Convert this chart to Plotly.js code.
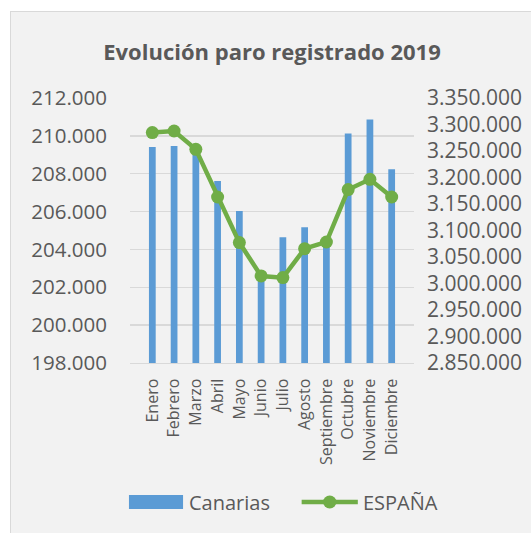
<!DOCTYPE html>
<html>
<head>
<meta charset="utf-8">
<script src="https://cdn.plot.ly/plotly-3.0.1.min.js"></script>
<style>
html,body{margin:0;padding:0;background:#ffffff;width:531px;height:533px;overflow:hidden;}
#chart{position:absolute;left:10px;top:11px;width:521px;height:522px;border-left:1px solid #d9d9d9;border-top:1px solid #d9d9d9;box-sizing:border-box;background:#f2f2f2;}
</style>
</head>
<body>
<div id="chart"></div>
<script>
const months = ["Enero","Febrero","Marzo","Abril","Mayo","Junio","Julio","Agosto","Septiembre","Octubre","Noviembre","Diciembre"];
const canarias = [209410, 209460, 209150, 207610, 206030, 202700, 204640, 205170, 204500, 210120, 210870, 208230];
const espana = [3284700, 3287700, 3253200, 3163200, 3077200, 3014200, 3011100, 3065800, 3078300, 3177200, 3196600, 3163200];
const seriesNames = ["Canarias", "ESPAÑA"];

const FONT = "'Open Sans', 'Liberation Sans', sans-serif";
const GREY = "#595959";
const BLUE = "#5b9bd5";
const GREEN = "#70ad47";

const traces = [
  {
    type: "bar", name: seriesNames[0], x: months, y: canarias,
    marker: {color: BLUE}, yaxis: "y", showlegend: false
  },
  {
    type: "scatter", mode: "lines+markers", name: seriesNames[1], x: months, y: espana,
    line: {color: GREEN, width: 4.5}, marker: {color: GREEN, size: 13},
    yaxis: "y2", showlegend: false
  }
];

// custom legend (paper coordinates relative to plot area)
const W = 273, H = 265;
const px = v => (v - 130) / W;
const py = v => (363 - v) / H;
const legendShapes = [
  {type: "rect", xref: "paper", yref: "paper", x0: px(129), x1: px(181), y0: py(509), y1: py(495),
   fillcolor: BLUE, line: {width: 0}},
  {type: "line", xref: "paper", yref: "paper", x0: px(295), x1: px(349), y0: py(502), y1: py(502),
   line: {color: GREEN, width: 4.5}},
  {type: "circle", xref: "paper", yref: "paper", x0: px(315.5), x1: px(328.5), y0: py(508.5), y1: py(495.5),
   fillcolor: GREEN, line: {width: 0}}
];
const legendTexts = [
  {text: seriesNames[0], xref: "paper", yref: "paper", x: px(185), y: py(502), xanchor: "left", yanchor: "middle",
   showarrow: false, font: {family: FONT, size: 20, color: GREY}},
  {text: seriesNames[1], xref: "paper", yref: "paper", x: px(352), y: py(502), xanchor: "left", yanchor: "middle",
   showarrow: false, font: {family: FONT, size: 20, color: GREY}}
];

const layout = {
  width: 520, height: 521,
  paper_bgcolor: "#f2f2f2", plot_bgcolor: "#f2f2f2",
  separators: ",.",
  margin: {l: 119, r: 117, t: 86, b: 170},
  bargap: 0.69,
  font: {family: FONT, color: GREY, size: 16},
  title: {
    text: "<b>Evolución paro registrado 2019</b>",
    font: {family: FONT, size: 22, color: GREY},
    x: 0.5, xref: "paper", xanchor: "center",
    y: 0.923, yref: "container", yanchor: "middle"
  },
  xaxis: {
    type: "category", tickangle: -90,
    tickfont: {family: FONT, size: 16, color: GREY},
    showgrid: false, showline: true, linecolor: "#d9d9d9", linewidth: 1.3,
    ticks: "", ticklabelstandoff: 8, zeroline: false
  },
  yaxis: {
    range: [198000, 212000], dtick: 2000, tick0: 198000, tickformat: ",.0f",
    showgrid: true, gridcolor: "#d9d9d9", gridwidth: 1.3,
    zeroline: false, showline: false, ticks: "",
    tickfont: {family: FONT, size: 20.5, color: GREY},
    ticklabelstandoff: 22
  },
  yaxis2: {
    overlaying: "y", side: "right",
    range: [2850000, 3350000], dtick: 50000, tick0: 2850000, tickformat: ",.0f",
    showgrid: false, zeroline: false, showline: false, ticks: "",
    tickfont: {family: FONT, size: 21, color: GREY},
    ticklabelstandoff: 12
  },
  showlegend: false,
  shapes: legendShapes,
  annotations: legendTexts
};

Plotly.newPlot("chart", traces, layout, {displayModeBar: false, staticPlot: true});
</script>
</body>
</html>
